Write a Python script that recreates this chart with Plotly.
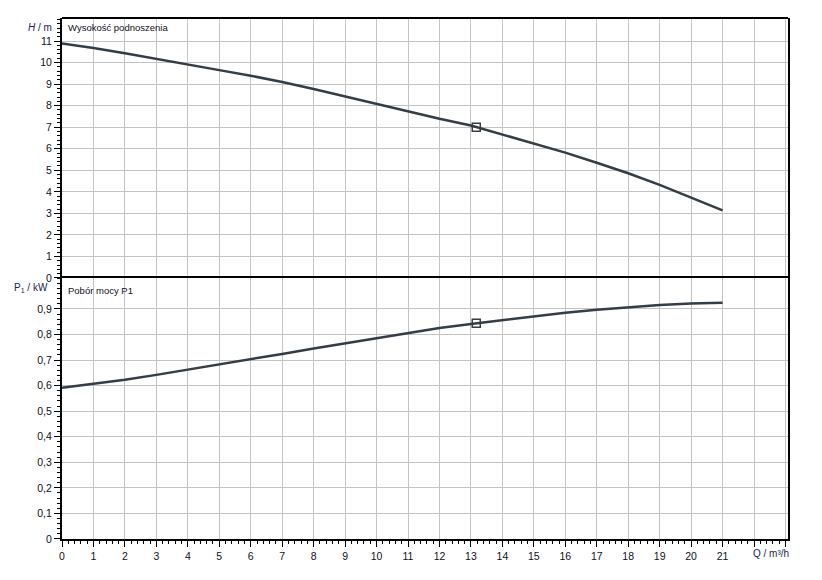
import plotly.graph_objects as go

# ---- data ----
flow_q = [0, 1, 2, 3, 4, 5, 6, 7, 8, 9, 10, 11, 12, 13, 14, 15, 16, 17, 18, 19, 20, 21]
head_h = [10.89, 10.68, 10.43, 10.16, 9.92, 9.65, 9.39, 9.10, 8.77, 8.42, 8.09, 7.74,
          7.39, 7.08, 6.66, 6.25, 5.82, 5.35, 4.86, 4.32, 3.74, 3.14]
power_p1 = [0.592, 0.607, 0.623, 0.642, 0.662, 0.683, 0.703, 0.724, 0.745, 0.765, 0.786,
            0.806, 0.825, 0.841, 0.856, 0.871, 0.885, 0.897, 0.907, 0.915, 0.921, 0.924]
op_q = [13.17]
op_h = [7.0]
op_p = [0.844]

x_tick_vals = list(range(24))
x_tick_text = [str(i) for i in range(22)] + ["", ""]
h_tick_vals = list(range(12))
h_tick_text = [str(i) for i in range(12)]
p_tick_vals = [0, 0.1, 0.2, 0.3, 0.4, 0.5, 0.6, 0.7, 0.8, 0.9]
p_tick_text = ["0", "0,1", "0,2", "0,3", "0,4", "0,5", "0,6", "0,7", "0,8", "0,9"]

LINE = "#353d46"
GRID = "#c3c3c3"
FONT = "Liberation Sans, Arial, sans-serif"
TXT = "#101018"
UNIT = "#1a2452"

fig = go.Figure()
fig.add_trace(go.Scatter(x=flow_q, y=head_h, xaxis="x", yaxis="y", mode="lines",
                         line=dict(color=LINE, width=2.5), hoverinfo="skip"))
fig.add_trace(go.Scatter(x=op_q, y=op_h, xaxis="x", yaxis="y", mode="markers",
                         marker=dict(symbol="square-open", size=8, color=LINE, line=dict(width=1.5, color=LINE))))
fig.add_trace(go.Scatter(x=flow_q, y=power_p1, xaxis="x2", yaxis="y2", mode="lines",
                         line=dict(color=LINE, width=2.5), hoverinfo="skip"))
fig.add_trace(go.Scatter(x=op_q, y=op_p, xaxis="x2", yaxis="y2", mode="markers",
                         marker=dict(symbol="square-open", size=8, color=LINE, line=dict(width=1.5, color=LINE))))

XR = [0, 23.08]
split = 0.501
common_axis = dict(showline=True, linecolor="black", linewidth=2, mirror=True, zeroline=False,
                   showgrid=True, gridcolor=GRID, gridwidth=1, automargin=False,
                   tickfont=dict(family=FONT, size=10.5, color=TXT))

fig.update_layout(
    width=814, height=572,
    margin=dict(l=54, r=34, t=10, b=41, autoexpand=False),
    paper_bgcolor="white", plot_bgcolor="white",
    showlegend=False,
    font=dict(family=FONT, size=10, color=TXT),
    xaxis=dict(common_axis, domain=[0, 1], anchor="y", range=XR, tickmode="array", showline=False,
               tickvals=x_tick_vals, ticktext=x_tick_text, showticklabels=False, ticks=""),
    yaxis=dict(common_axis, domain=[split, 1], anchor="x", range=[0, 12.07], tickmode="array",
               tickvals=h_tick_vals, ticktext=h_tick_text, ticks="outside", ticklen=6, tickwidth=1,
               tickcolor="black",
               minor=dict(tick0=0, dtick=0.2, ticks="outside", ticklen=3, tickcolor="black", showgrid=False)),
    xaxis2=dict(common_axis, domain=[0, 1], anchor="y2", range=XR, tickmode="array",
                tickvals=x_tick_vals, ticktext=x_tick_text, ticks="outside", ticklen=6, tickwidth=1,
                tickcolor="black",
                minor=dict(tick0=0, dtick=0.2, ticks="outside", ticklen=3, tickcolor="black", showgrid=False)),
    yaxis2=dict(common_axis, domain=[0, split], anchor="x2", range=[0, 1.021], tickmode="array",
                tickvals=p_tick_vals, ticktext=p_tick_text, ticks="outside", ticklen=6, tickwidth=1,
                tickcolor="black",
                minor=dict(tick0=0, dtick=0.02, ticks="outside", ticklen=3, tickcolor="black", showgrid=False)),
)

# top border of the upper panel (its lower border is the upper line of the lower panel)
fig.add_shape(type="line", xref="paper", yref="paper", x0=0, x1=1, y0=1, y1=1,
              line=dict(color="black", width=2))

ann_font = dict(family=FONT, size=9.5, color=TXT)
unit_font = dict(family=FONT, size=10, color=UNIT)
fig.add_annotation(text="Wysokość podnoszenia", xref="paper", yref="paper", x=0, xshift=4,
                   y=(539 - 28) / 521, xanchor="left", yanchor="middle", showarrow=False, font=ann_font)
fig.add_annotation(text="Pobór mocy P1", xref="paper", yref="paper", x=0, xshift=4,
                   y=(539 - 290) / 521, xanchor="left", yanchor="middle", showarrow=False, font=ann_font)
fig.add_annotation(text="<i>H</i> / m", xref="paper", yref="paper", x=0, xshift=-8,
                   y=(539 - 27) / 521, xanchor="right", yanchor="middle", showarrow=False, font=unit_font)
fig.add_annotation(text="P<sub>1</sub> / kW", xref="paper", yref="paper", x=0, xshift=-12,
                   y=(539 - 288) / 521, xanchor="right", yanchor="middle", showarrow=False, font=unit_font)
fig.add_annotation(text="Q / m³/h", xref="paper", yref="paper", x=(771 - 62) / 726,
                   y=(539 - 553) / 521, xanchor="center", yanchor="middle", showarrow=False, font=unit_font)

fig.write_html("out.html")
